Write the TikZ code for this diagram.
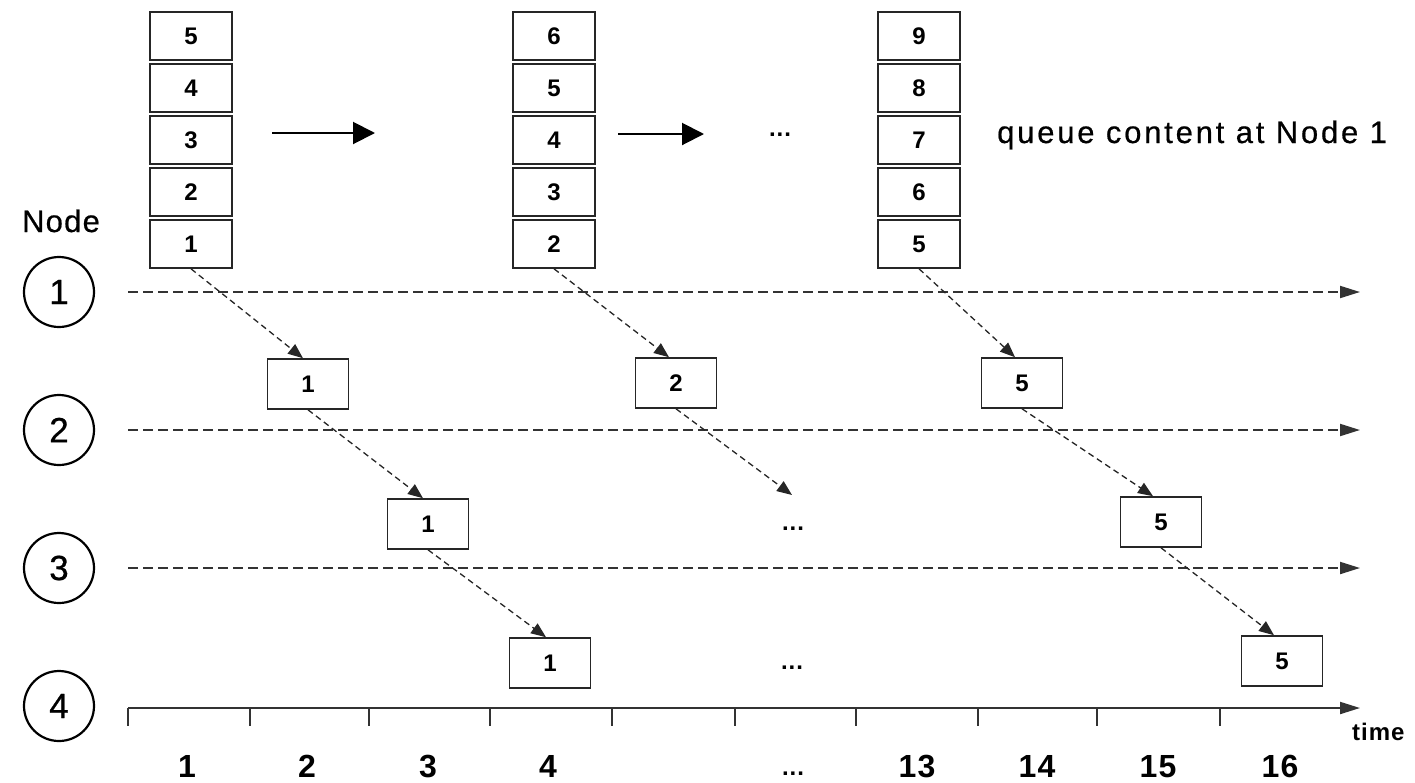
\documentclass[tikz,border=0pt]{standalone}
\usepackage{fontspec}
\setmainfont{Liberation Sans}[LetterSpace=4]
\newfontfamily\medfont{Liberation Sans}[LetterSpace=4,FakeBold=0.6]
\newfontfamily\widefont{Liberation Sans}[LetterSpace=9,FakeBold=0.6]
\usetikzlibrary{arrows.meta}
\newcommand{\fsz}[1]{\fontsize{#1}{#1}\selectfont}
\tikzset{
  qbox/.style={draw=black!85, line width=1.6pt, minimum width=82pt, minimum height=48pt, inner sep=0pt, font=\fsz{24}\bfseries},
  pkt/.style={draw=black!85, line width=1.6pt, minimum width=81pt, minimum height=50pt, inner sep=0pt, font=\fsz{24}\bfseries},
  nodec/.style={draw, circle, line width=2.2pt, minimum size=70pt, inner sep=0pt, font=\fsz{35}\medfont},
  timeline/.style={line width=2pt, draw=black!80, dash pattern=on 10pt off 5pt, -{Triangle[length=20pt,width=12pt]}},
  axisline/.style={line width=2pt, draw=black!80, -{Triangle[length=20pt,width=12pt]}},
  tick/.style={line width=2pt, draw=black!80},
  hop/.style={draw=black!85, line width=1.3pt, dash pattern=on 6pt off 4pt, -{Triangle[length=15pt,width=12pt]}},
  bigarrow/.style={line width=2pt, -{Triangle[length=22pt,width=22pt]}},
  lab/.style={font=\fsz{32}\bfseries, anchor=base, inner sep=0pt},
  dots/.style={font=\fsz{24}\bfseries, anchor=base, inner sep=0pt},
}
\begin{document}
\begin{tikzpicture}[x=1pt,y=-1pt]
\useasboundingbox (0,0) rectangle (1415,782);
% queue stacks
\node[qbox] (s1a) at (191,36) {5};
\node[qbox] (s1b) at (191,88) {4};
\node[qbox] (s1c) at (191,140) {3};
\node[qbox] (s1d) at (191,192) {2};
\node[qbox] (s1e) at (191,244) {1};
\node[qbox] (s2a) at (554,36) {6};
\node[qbox] (s2b) at (554,88) {5};
\node[qbox] (s2c) at (554,140) {4};
\node[qbox] (s2d) at (554,192) {3};
\node[qbox] (s2e) at (554,244) {2};
\node[qbox] (s3a) at (919,36) {9};
\node[qbox] (s3b) at (919,88) {8};
\node[qbox] (s3c) at (919,140) {7};
\node[qbox] (s3d) at (919,192) {6};
\node[qbox] (s3e) at (919,244) {5};
% arrows between stacks
\coordinate (a1s) at (272,133);
\coordinate (a1e) at (375,133);
\coordinate (a2s) at (618,134);
\coordinate (a2e) at (704,134);
\draw[bigarrow] (a1s) -- (a1e);
\draw[bigarrow] (a2s) -- (a2e);
\node[dots] (topdots) at (780,136.5) {...};
\node[font=\fsz{31}\widefont, anchor=base west, inner sep=0pt] (qlabel) at (997,143) {queue content at Node 1};
% Node label and circles
\node[font=\fsz{31}\medfont, anchor=base, inner sep=0pt] (nodelabel) at (61,232) {Node};
\node[nodec] (n1) at (59,292) {1};
\node[nodec] (n2) at (59,430) {2};
\node[nodec] (n3) at (59,568) {3};
\node[nodec] (n4) at (59,706) {4};
% timelines
\coordinate (l1a) at (128,292); \coordinate (l1b) at (1360,292);
\coordinate (l2a) at (128,430); \coordinate (l2b) at (1360,430);
\coordinate (l3a) at (128,568); \coordinate (l3b) at (1360,568);
\coordinate (l4a) at (128,708); \coordinate (l4b) at (1360,708);
\draw[timeline] (l1a) -- (l1b);
\draw[timeline] (l2a) -- (l2b);
\draw[timeline] (l3a) -- (l3b);
\draw[axisline] (l4a) -- (l4b);
\foreach \tx in {128,250,369,490,612,735,856,978,1097,1220}
  \draw[tick] (\tx,708) -- (\tx,726);
% axis labels
\node[lab] (t1) at (187,777) {1};
\node[lab] (t2) at (307,777) {2};
\node[lab] (t3) at (428,777) {3};
\node[lab] (t4) at (548,777) {4};
\node[dots] (tdots) at (793,775) {...};
\node[lab] (t13) at (917,777) {13};
\node[lab] (t14) at (1037,777) {14};
\node[lab] (t15) at (1158,777) {15};
\node[lab] (t16) at (1280,777) {16};
\node[font=\fsz{24}\bfseries, anchor=base west, inner sep=0pt] (timelabel) at (1352,740) {time};
% packets
\node[pkt] (p11) at (308,384) {1};
\node[pkt] (p12) at (676,383) {2};
\node[pkt] (p13) at (1022,383) {5};
\node[pkt] (p21) at (428,524) {1};
\node[pkt] (p23) at (1161,522) {5};
\node[pkt] (p31) at (550,663) {1};
\node[pkt] (p33) at (1282,661) {5};
\node[dots] (r2dots) at (793,530) {...};
\node[dots] (r3dots) at (792,669) {...};
\coordinate (free) at (792,495);
% hops
\draw[hop] (s1e.south) -- ([xshift=-5pt]p11.north);
\draw[hop] (p11.south) -- ([xshift=-5pt]p21.north);
\draw[hop] (p21.south) -- ([xshift=-4pt]p31.north);
\draw[hop] (s2e.south) -- ([xshift=-7pt]p12.north);
\draw[hop] (p12.south) -- (free);
\draw[hop] (s3e.south) -- ([xshift=-7pt]p13.north);
\draw[hop] (p13.south) -- ([xshift=-8pt]p23.north);
\draw[hop] (p23.south) -- ([xshift=-8pt]p33.north);
\end{tikzpicture}
\end{document}
